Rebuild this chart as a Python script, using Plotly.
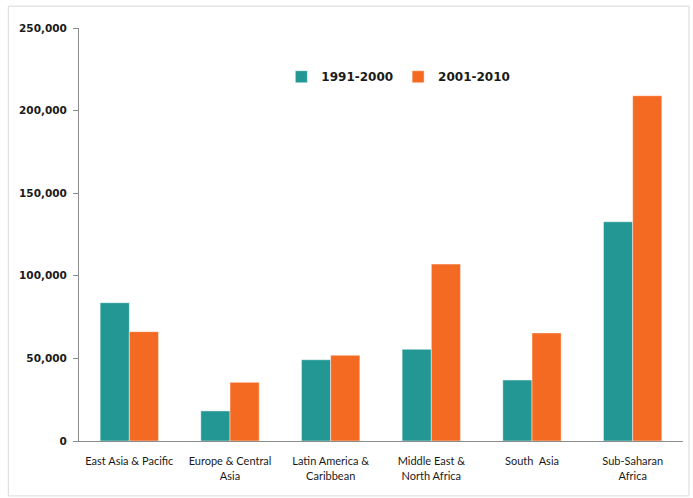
import plotly.graph_objects as go

regions = [
    "East Asia & Pacific",
    "Europe & Central<br>Asia",
    "Latin America &<br>Caribbean",
    "Middle East &<br>North Africa",
    "South  Asia",
    "Sub-Saharan<br>Africa",
]
decade_1991_2000 = [83700, 18200, 49200, 55500, 36900, 132700]
decade_2001_2010 = [66200, 35500, 51900, 107100, 65400, 209000]
y_ticks = [0, 50000, 100000, 150000, 200000, 250000]
y_tick_labels = ["0", "50,000", "100,000", "150,000", "200,000", "250,000"]

TEAL = "#229794"
ORANGE = "#F46A23"

fig = go.Figure()
fig.add_trace(go.Bar(
    x=regions, y=decade_1991_2000, name="1991-2000",
    marker=dict(color=TEAL, line=dict(color="rgba(255,255,255,0.45)", width=1)),
))
fig.add_trace(go.Bar(
    x=regions, y=decade_2001_2010, name="2001-2010",
    marker=dict(color=ORANGE, line=dict(color="rgba(255,255,255,0.45)", width=1)),
))

fig.update_layout(
    width=693, height=498,
    margin=dict(l=79, r=10, t=28, b=57),
    paper_bgcolor="white", plot_bgcolor="white",
    barmode="group", bargap=0.42, bargroupgap=0,
    showlegend=True,
    legend=dict(
        orientation="h", x=0.335, y=0.882, xanchor="left", yanchor="middle",
        font=dict(family="DejaVu Sans", size=12, color="#1a1a1a", weight="bold"),
        itemwidth=30, traceorder="normal", itemclick=False,
        bgcolor="rgba(0,0,0,0)",
    ),
    font=dict(family="DejaVu Sans", color="#1a1a1a"),
    shapes=[dict(
        type="rect", xref="paper", yref="paper",
        x0=-0.117, x1=1.0099, y0=-0.133, y1=1.053,
        line=dict(color="#d9d9d9", width=1), fillcolor="rgba(0,0,0,0)",
        layer="below",
    )],
)

fig.update_yaxes(
    range=[0, 250000],
    tickvals=y_ticks, ticktext=y_tick_labels,
    showgrid=False, zeroline=False,
    showline=True, linecolor="#8c8c8c", linewidth=1,
    ticks="outside", ticklen=5, tickcolor="#8c8c8c",
    tickfont=dict(family="DejaVu Sans", size=10.5, color="#1a1a1a", weight="bold"),
    ticklabelstandoff=4,
)
fig.update_xaxes(
    showgrid=False, zeroline=False,
    showline=True, linecolor="#8c8c8c", linewidth=1,
    ticks="", tickangle=0,
    tickfont=dict(family="Lato", size=11, color="#1a1a1a"),
    ticklabelstandoff=10,
)

fig.write_html("out.html")
